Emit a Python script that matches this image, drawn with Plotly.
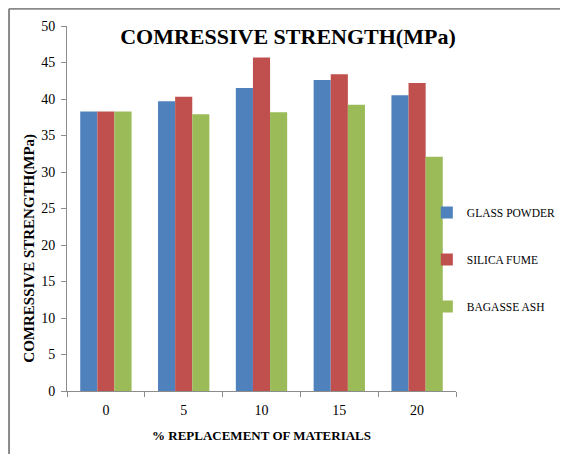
import plotly.graph_objects as go

categories = ["0", "5", "10", "15", "20"]
glass_powder = [38.3, 39.7, 41.5, 42.6, 40.5]
silica_fume = [38.3, 40.3, 45.7, 43.4, 42.2]
bagasse_ash = [38.3, 37.9, 38.2, 39.2, 32.1]
y_ticks = [0, 5, 10, 15, 20, 25, 30, 35, 40, 45, 50]

FONT = "Liberation Serif"
AXIS_GREY = "#8c8c8c"

fig = go.Figure()
series = [
    ("GLASS POWDER", glass_powder, "#4F81BD"),
    ("SILICA FUME", silica_fume, "#C0504D"),
    ("BAGASSE ASH", bagasse_ash, "#9BBB59"),
]
for name, vals, col in series:
    fig.add_trace(go.Bar(
        x=categories, y=vals, name=name, legendgroup=name,
        marker=dict(color=col, line=dict(width=0)),
    ))

fig.update_layout(
    width=568, height=454,
    paper_bgcolor="white", plot_bgcolor="white",
    margin=dict(l=59, r=120, t=18, b=71, autoexpand=False),
    barmode="group", bargap=0.34, bargroupgap=0,
    font=dict(family=FONT, color="black", size=13),
    title=dict(
        text="<b>COMRESSIVE STRENGTH(MPa)</b>",
        font=dict(family=FONT, size=22, color="black"),
        x=0.568, xref="paper", xanchor="center",
        y=0.938, yref="container", yanchor="middle",
    ),
    showlegend=True,
    legend=dict(
        x=0.925, xanchor="left", y=0.36, yanchor="middle",
        font=dict(family=FONT, size=11.5, color="black"),
        tracegroupgap=28, itemwidth=30,
        bgcolor="rgba(0,0,0,0)",
    ),
    xaxis=dict(
        type="category",
        showline=True, linecolor=AXIS_GREY, linewidth=1,
        ticks="outside", tickson="boundaries", ticklen=5, tickcolor=AXIS_GREY,
        showgrid=False, ticklabelstandoff=6,
        tickfont=dict(family=FONT, size=14, color="black"),
        title=dict(text="<b>% REPLACEMENT OF MATERIALS</b>",
                   font=dict(family=FONT, size=13, color="black"), standoff=14),
    ),
    yaxis=dict(
        range=[0, 50], tickvals=y_ticks,
        showline=True, linecolor=AXIS_GREY, linewidth=1,
        ticks="outside", ticklen=5, tickcolor=AXIS_GREY,
        showgrid=False, zeroline=False, ticklabelstandoff=3,
        tickfont=dict(family=FONT, size=14, color="black"),
    ),
    annotations=[
        dict(text="<b>COMRESSIVE STRENGTH(MPa)</b>", textangle=-90,
             xref="paper", yref="paper", x=-0.095, y=0.39,
             xanchor="center", yanchor="middle", showarrow=False,
             font=dict(family=FONT, size=15, color="black")),
    ],
    shapes=[
        dict(type="line", xref="paper", yref="paper",
             x0=-0.149, x1=-0.149, y0=1.047, y1=-0.3,
             line=dict(color="#8a8a8a", width=2)),
        dict(type="line", xref="paper", yref="paper",
             x0=-0.149, x1=1.4, y0=1.047, y1=1.047,
             line=dict(color="#8a8a8a", width=2)),
    ],
)

fig.write_html("out.html")
